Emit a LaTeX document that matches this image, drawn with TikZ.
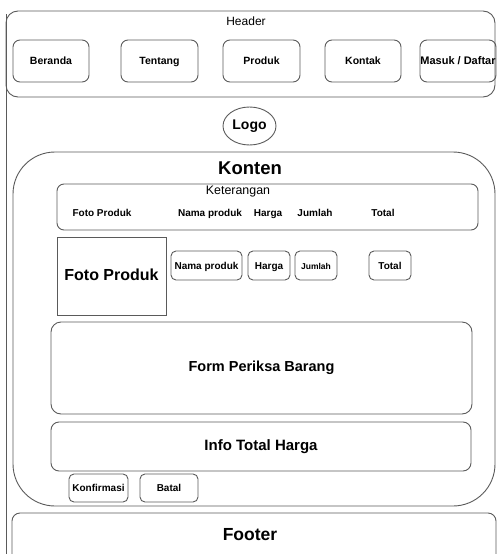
\documentclass[tikz,border=0pt]{standalone}
\usepackage{fontspec}
\setmainfont{Liberation Sans}
\usetikzlibrary{shapes.geometric}
\definecolor{edge}{HTML}{5A5A5A}
\tikzset{
  x=1pt, y=-1pt,
  every node/.style={text height=0.72em, text depth=0pt},
  frame/.style={draw=edge, line width=0.9pt, rounded corners=#1, inner sep=0pt, anchor=center},
  frame/.default=7pt,
  sharpbox/.style={draw=edge, line width=0.9pt, inner sep=0pt},
  lbl/.style={inner sep=0pt, font=\bfseries\fontsize{10}{12}\selectfont},
  navbtn/.style={frame=7pt, minimum width=77pt, minimum height=42pt, font=\bfseries\fontsize{10.5}{12}\selectfont},
  cellbtn/.style={frame=5pt, minimum height=29pt, font=\bfseries\fontsize{10}{12}\selectfont},
  actbtn/.style={frame=5pt, minimum height=28pt, font=\bfseries\fontsize{10}{12}\selectfont},
}
\begin{document}
\begin{tikzpicture}
\useasboundingbox (0,0) rectangle (497,554);
\clip (0,0) rectangle (497,554);

% page edge on the left
\draw[edge, line width=0.9pt] (6,14) -- (6,560);

% header bar and navigation
\node[frame=12pt, minimum width=489pt, minimum height=86pt] (header) at (250.5,54) {};
\node[inner sep=0pt, font=\fontsize{12}{14}\selectfont] (headertxt) at (246,22) {Header};
\node[navbtn, minimum width=76pt] (beranda) at (51,61) {Beranda};
\node[navbtn] (tentang) at (159.5,61) {Tentang};
\node[navbtn] (produk) at (261.5,61) {Produk};
\node[navbtn, minimum width=76pt] (kontak) at (363,61) {Kontak};
\node[navbtn, minimum width=76pt, font=\bfseries\fontsize{11}{12}\selectfont] (masuk) at (458,61) {Masuk / Daftar};

% logo
\node[ellipse, draw=edge, line width=0.9pt, minimum width=53pt, minimum height=38pt, inner sep=0pt,
      font=\bfseries\fontsize{14}{16}\selectfont] (logo) at (249.5,126) {Logo};

% content area
\node[frame=42pt, minimum width=482pt, minimum height=354pt] (konten) at (254,329) {};
\node[inner sep=0pt, font=\bfseries\fontsize{18.5}{20}\selectfont] (kontentxt) at (250,171) {Konten};

% column captions
\node[frame=7pt, minimum width=421pt, minimum height=46pt] (ket) at (267.5,207) {};
\node[inner sep=0pt, font=\fontsize{12.4}{14}\selectfont] (kettxt) at (238,191) {Keterangan};
\node[lbl] (hfoto) at (102,213) {Foto Produk};
\node[lbl] (hnama) at (210,213) {Nama produk};
\node[lbl] (hharga) at (268,213) {Harga};
\node[lbl] (hjumlah) at (315,213) {Jumlah};
\node[lbl] (htotal) at (383,213) {Total};

% product row
\node[sharpbox, minimum width=109pt, minimum height=78pt] (foto) at (111.5,276) {};
\node[inner sep=0pt, font=\bfseries\fontsize{16}{18}\selectfont] (fototxt) at (111.5,277) {Foto Produk};
\node[cellbtn, minimum width=71pt] (nama) at (206.5,265.5) {Nama produk};
\node[cellbtn, minimum width=42pt] (harga) at (269,265.5) {Harga};
\node[cellbtn, minimum width=42pt, font=\bfseries\fontsize{8.5}{10}\selectfont] (jumlah) at (316,265.5) {Jumlah};
\node[cellbtn, minimum width=42pt] (total) at (390,265.5) {Total};

% form and totals
\node[frame=10pt, minimum width=421pt, minimum height=92pt, font=\bfseries\fontsize{14.5}{16}\selectfont] (form) at (261.5,368) {Form Periksa Barang};
\node[frame=8pt, minimum width=420pt, minimum height=49pt, font=\bfseries\fontsize{15}{17}\selectfont] (info) at (261,446.5) {Info Total Harga};

% actions
\node[actbtn, minimum width=59pt] (konfirmasi) at (98.5,488) {Konfirmasi};
\node[actbtn, minimum width=58pt] (batal) at (169,488) {Batal};

% footer
\node[frame=8pt, minimum width=484pt, minimum height=62pt] (footer) at (254,544) {};
\node[inner sep=0pt, font=\bfseries\fontsize{17.5}{19}\selectfont] (footertxt) at (250,537) {Footer};
\end{tikzpicture}
\end{document}
